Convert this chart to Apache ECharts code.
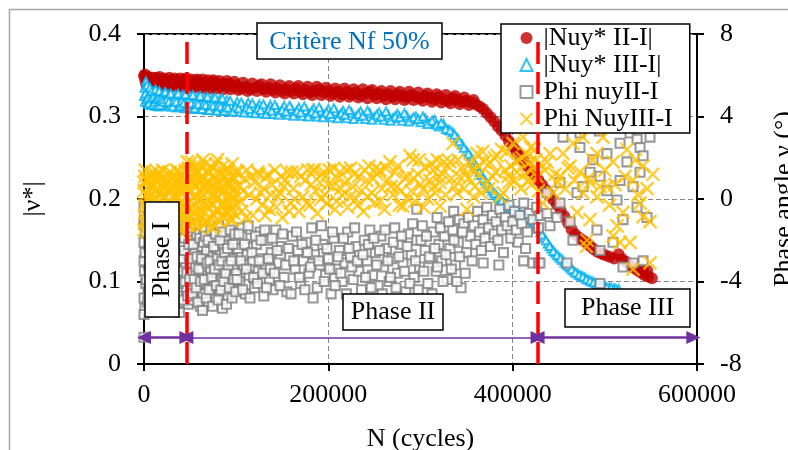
<!DOCTYPE html>
<html><head><meta charset="utf-8">
<script src="https://cdn.jsdelivr.net/npm/echarts@6/dist/echarts.min.js"></script>
<style>html,body{margin:0;padding:0;background:#fff}#c{width:788px;height:450px}</style>
</head><body><div id="c"></div>
<script>
const seriesNames = ['|Nuy* II-I|', '|Nuy* III-I|', 'Phi nuyII-I', 'Phi NuyIII-I'];
const xTicks = [0, 200000, 400000, 600000];
// |Nuy* II-I|  [N, |nu*|]
const nuyII = [[0,0.349],[1500,0.344],[3000,0.346],[4500,0.342],[6000,0.345],[8000,0.341],[10000,0.344],[12000,0.34],[14000,0.343],[16000,0.345],[18000,0.341],[20000,0.343],[23000,0.339],[26000,0.342],[29000,0.344],[32000,0.34],[35000,0.343],[38000,0.339],[41000,0.342],[44000,0.344],[47000,0.34],[50000,0.342],[53000,0.338],[56000,0.341],[59000,0.343],[62000,0.339],[65000,0.341],[68000,0.338],[71000,0.34],[74000,0.342],[77000,0.338],[80000,0.34],[84000,0.337],[88000,0.339],[92000,0.34],[96000,0.336],[100000,0.338],[105000,0.334],[110000,0.336],[115000,0.333],[120000,0.335],[125000,0.337],[130000,0.333],[135000,0.335],[140000,0.332],[145000,0.334],[150000,0.331],[155000,0.333],[160000,0.331],[165000,0.334],[170000,0.33],[175000,0.332],[180000,0.329],[185000,0.331],[190000,0.333],[195000,0.329],[200000,0.331],[205000,0.328],[210000,0.33],[215000,0.327],[220000,0.33],[225000,0.327],[230000,0.329],[235000,0.326],[240000,0.328],[245000,0.33],[250000,0.326],[255000,0.328],[260000,0.325],[265000,0.327],[270000,0.324],[275000,0.327],[280000,0.325],[285000,0.323],[290000,0.326],[295000,0.324],[300000,0.322],[305000,0.325],[310000,0.323],[315000,0.321],[320000,0.324],[325000,0.321],[330000,0.319],[335000,0.322],[340000,0.32],[345000,0.318],[350000,0.319],[355000,0.317],[360000,0.315],[364000,0.312],[368000,0.309],[372000,0.304],[376000,0.299],[380000,0.294],[384000,0.288],[388000,0.283],[392000,0.277],[396000,0.27],[400000,0.264],[404000,0.258],[408000,0.252],[412000,0.246],[416000,0.24],[420000,0.234],[424000,0.229],[428000,0.223],[432000,0.217],[436000,0.211],[440000,0.205],[444000,0.199],[448000,0.193],[452000,0.186],[456000,0.179],[460000,0.171],[464000,0.163],[468000,0.157],[472000,0.153],[476000,0.15],[480000,0.147],[484000,0.143],[488000,0.139],[492000,0.136],[496000,0.134],[500000,0.132],[505000,0.13],[510000,0.128],[515000,0.133],[519000,0.127],[523000,0.124],[527000,0.12],[531000,0.117],[535000,0.114],[539000,0.111],[541000,0.115],[543000,0.108],[546000,0.113],[547000,0.106],[551000,0.104]];
const nuyIIspread = [[1000,0.351],[2500,0.339],[5000,0.348],[7000,0.338],[9000,0.347],[11000,0.337],[13000,0.347],[15000,0.338],[17000,0.348],[19000,0.337],[21500,0.346],[24500,0.336],[27500,0.347],[30500,0.337],[33500,0.346],[36500,0.336],[39500,0.346],[42500,0.336],[45500,0.346],[48500,0.336],[51500,0.345],[54500,0.335],[57500,0.345],[60500,0.335],[63500,0.345],[66500,0.334],[69500,0.344],[72500,0.334],[75500,0.344],[78500,0.334],[82000,0.343],[86000,0.333],[90000,0.343],[94000,0.333],[98000,0.342],[102500,0.332],[107500,0.341],[112500,0.331],[117500,0.34],[122500,0.331],[127500,0.339],[132500,0.33],[137500,0.339],[142500,0.329],[147500,0.338],[152500,0.328],[157500,0.337],[162500,0.328],[167500,0.337],[172500,0.327],[177500,0.336],[182500,0.326],[187500,0.336],[192500,0.326],[197500,0.335],[202500,0.325],[207500,0.334],[212500,0.324],[217500,0.334],[222500,0.324],[227500,0.333],[232500,0.323],[237500,0.333],[242500,0.322],[247500,0.332],[252500,0.322],[257500,0.331],[262500,0.321],[267500,0.331],[272500,0.321],[277500,0.33],[282500,0.32],[287500,0.33],[292500,0.32],[297500,0.329],[302500,0.319],[307500,0.328],[312500,0.318],[317500,0.327],[322500,0.317],[327500,0.326],[332500,0.316],[337500,0.325],[342500,0.315],[347500,0.323],[352500,0.314],[357500,0.32]];
// |Nuy* III-I|  [N, |nu*|]
const nuyIII = [[0,0.325],[1000,0.318],[2000,0.343],[3000,0.33],[4000,0.315],[5000,0.327],[6000,0.321],[7000,0.332],[8000,0.314],[9000,0.326],[10000,0.319],[11000,0.33],[12000,0.313],[13000,0.324],[14000,0.318],[15000,0.329],[16000,0.312],[17000,0.323],[18000,0.317],[19000,0.328],[20000,0.313],[22000,0.325],[24000,0.316],[26000,0.327],[28000,0.312],[30000,0.322],[32000,0.315],[34000,0.326],[36000,0.311],[38000,0.321],[40000,0.315],[42000,0.326],[44000,0.31],[46000,0.32],[48000,0.314],[50000,0.325],[52000,0.309],[54000,0.319],[56000,0.313],[58000,0.324],[60000,0.309],[62000,0.318],[64000,0.312],[66000,0.323],[68000,0.308],[70000,0.317],[72000,0.311],[74000,0.322],[76000,0.308],[78000,0.316],[80000,0.31],[82000,0.321],[84000,0.307],[86000,0.315],[88000,0.31],[90000,0.32],[92000,0.306],[95000,0.314],[98000,0.309],[101000,0.318],[104000,0.306],[107000,0.313],[110000,0.308],[113000,0.317],[116000,0.305],[119000,0.312],[122000,0.307],[125000,0.315],[128000,0.304],[131000,0.311],[134000,0.306],[137000,0.314],[140000,0.303],[144000,0.31],[148000,0.305],[152000,0.313],[156000,0.302],[160000,0.309],[164000,0.304],[168000,0.311],[172000,0.301],[176000,0.308],[180000,0.303],[184000,0.31],[188000,0.3],[192000,0.307],[196000,0.302],[200000,0.309],[204000,0.299],[208000,0.306],[212000,0.301],[216000,0.307],[220000,0.298],[225000,0.305],[230000,0.3],[235000,0.306],[240000,0.297],[245000,0.304],[250000,0.299],[255000,0.305],[260000,0.296],[265000,0.302],[270000,0.298],[275000,0.303],[280000,0.295],[285000,0.301],[290000,0.296],[295000,0.3],[300000,0.293],[305000,0.298],[310000,0.292],[315000,0.296],[320000,0.288],[325000,0.291],[330000,0.284],[335000,0.281],[340000,0.274],[345000,0.266],[350000,0.258],[354000,0.252],[358000,0.244],[362000,0.237],[366000,0.229],[370000,0.222],[374000,0.216],[378000,0.21],[382000,0.205],[386000,0.2],[390000,0.196],[394000,0.192],[398000,0.189],[402000,0.186],[406000,0.184],[410000,0.181],[414000,0.179],[418000,0.176],[422000,0.172],[426000,0.167],[430000,0.16],[434000,0.153],[438000,0.146],[442000,0.14],[446000,0.135],[450000,0.13],[454000,0.126],[458000,0.121],[462000,0.117],[466000,0.113],[470000,0.11],[474000,0.107],[478000,0.105],[482000,0.102],[486000,0.1],[490000,0.098],[495000,0.096],[500000,0.094],[505000,0.093],[510000,0.092],[515000,0.091]];
const nuyIIIspread = [[500,0.335],[1500,0.328],[2500,0.321],[3500,0.338],[4500,0.323],[5500,0.316],[6500,0.335],[7500,0.322],[8500,0.331],[9500,0.315],[10500,0.324],[11500,0.318],[12500,0.333],[13500,0.321],[14500,0.313],[15500,0.322],[16500,0.331],[17500,0.314],[18500,0.323],[19500,0.32],[21000,0.318],[23000,0.33],[25000,0.321],[27000,0.318],[29000,0.328],[31000,0.312],[33000,0.32],[35000,0.318],[37000,0.328],[39000,0.313],[41000,0.319],[43000,0.316],[45000,0.327],[47000,0.311],[49000,0.319],[51000,0.316],[53000,0.326],[55000,0.31],[57000,0.317],[59000,0.315],[61000,0.325],[63000,0.309],[65000,0.316],[67000,0.314],[69000,0.324],[71000,0.308],[73000,0.315],[75000,0.313],[77000,0.323],[79000,0.307],[81000,0.314],[83000,0.312],[85000,0.322],[87000,0.307],[89000,0.313],[91000,0.311],[93500,0.319],[96500,0.306],[99500,0.312],[102500,0.31],[105500,0.317],[108500,0.305],[111500,0.311],[114500,0.309],[117500,0.316],[120500,0.304],[123500,0.31],[126500,0.308],[129500,0.315],[132500,0.303],[135500,0.309],[138500,0.307],[142000,0.314],[146000,0.302],[150000,0.308],[154000,0.306],[158000,0.313],[162000,0.301],[166000,0.307],[170000,0.305],[174000,0.312],[178000,0.3],[182000,0.306],[186000,0.304],[190000,0.311],[194000,0.299],[198000,0.305],[202000,0.303],[206000,0.31],[210000,0.298],[214000,0.304],[218000,0.302],[222500,0.308],[227500,0.297],[232500,0.303],[237500,0.301],[242500,0.307],[247500,0.296],[252500,0.302],[257500,0.3],[262500,0.306],[267500,0.295],[272500,0.3],[277500,0.299],[282500,0.304],[287500,0.294],[292500,0.299],[297500,0.297],[302500,0.3],[307500,0.291],[312500,0.295],[317500,0.29],[322500,0.292],[327500,0.285],[332000,0.283],[337000,0.278],[342000,0.27],[347000,0.262],[352000,0.255],[356000,0.248],[360000,0.24],[364000,0.233],[368000,0.225],[372000,0.219],[376000,0.213],[380000,0.207],[384000,0.202],[388000,0.198],[392000,0.194],[396000,0.19],[400000,0.187],[404000,0.185],[408000,0.182],[412000,0.18],[416000,0.177],[420000,0.174],[424000,0.17],[428000,0.164],[432000,0.157],[436000,0.15],[440000,0.143],[444000,0.137],[448000,0.132],[452000,0.128],[456000,0.123],[460000,0.119],[464000,0.115],[468000,0.111],[472000,0.108],[476000,0.106],[480000,0.103],[484000,0.101],[488000,0.099],[492000,0.097],[497000,0.095],[502000,0.093],[507000,0.092],[512000,0.091]];
// Phi nuyII-I  [N, degrees]
const phiII = [[0,-6.7],[0,-0.4],[0,-1.2],[0,-2.1],[0,-4.8],[500,-3.5],[1000,-5.3],[1500,-1.6],[2000,-4.1],[3000,-2.8],[4000,-5.0],[5000,-3.2],[6000,-1.9],[7000,-4.4],[8000,-2.5],[9000,-5.5],[10000,-3.7],[12000,-1.4],[14000,-4.6],[16000,-2.9],[18000,-3.9],[20000,-5.2],[22000,-2.2],[24000,-3.4],[26000,-4.9],[28000,-1.8],[30000,-3.0],[32000,-4.3],[34000,-2.6],[36000,-5.3],[38000,-3.6],[39000,-1.5],[40000,-4.7],[41000,-2.3],[42000,-3.9],[43000,-5.0],[44000,-1.9],[45000,-3.3],[46000,-4.4],[47000,-2.7],[48000,-5.1],[49000,-1.6],[50000,-3.1],[51000,-4.2],[52000,-2.0],[53000,-3.6],[54000,-4.9],[55000,-2.6],[56000,-3.3],[57000,-1.7],[58000,-4.4],[59000,-2.9],[60000,-3.8],[61000,-5.2],[62000,-2.3],[63000,-3.5],[64000,-4.6],[65000,-1.5],[66000,-3.0],[67000,-4.1],[68000,-2.5],[69000,-3.7],[70000,-5.0],[71000,-2.1],[72000,-3.4],[73000,-4.3],[74000,-1.9],[75000,-2.8],[76000,-4.0],[77000,-3.2],[78000,-4.8],[79000,-2.4],[80000,-3.6],[81000,-1.3],[82000,-4.5],[83000,-2.7],[84000,-3.9],[85000,-5.3],[86000,-2.2],[87000,-3.1],[88000,-4.2],[89000,-1.8],[90000,-3.5],[91000,-4.7],[92000,-2.6],[93000,-3.8],[94000,-1.6],[95000,-4.1],[96000,-2.9],[97000,-3.3],[98000,-4.4],[99000,-2.0],[100000,-3.6],[102000,-2.4],[104000,-4.0],[106000,-1.4],[108000,-3.2],[110000,-4.6],[112000,-2.7],[114000,-3.7],[116000,-1.9],[118000,-3.0],[120000,-4.3],[122000,-2.2],[124000,-3.5],[126000,-1.6],[128000,-2.9],[130000,-4.7],[132000,-3.3],[134000,-2.0],[136000,-3.9],[138000,-2.6],[140000,-4.4],[143000,-1.5],[146000,-3.1],[149000,-2.3],[152000,-3.8],[155000,-4.5],[158000,-2.8],[161000,-1.8],[164000,-3.4],[167000,-2.5],[170000,-4.1],[173000,-3.0],[176000,-2.1],[179000,-3.6],[182000,-1.4],[185000,-2.7],[188000,-4.3],[191000,-3.2],[194000,-2.2],[197000,-3.7],[200000,-2.9],[203000,-4.6],[206000,-1.9],[209000,-3.4],[212000,-2.5],[215000,-4.0],[218000,-3.1],[221000,-1.6],[224000,-2.8],[227000,-3.9],[230000,-2.3],[233000,-3.5],[236000,-4.4],[239000,-2.0],[242000,-3.0],[245000,-1.5],[248000,-3.7],[251000,-2.6],[254000,-4.2],[257000,-1.8],[260000,-3.3],[263000,-2.4],[266000,-4.0],[269000,-2.9],[272000,-1.4],[275000,-3.6],[278000,-2.2],[281000,-3.1],[284000,-4.5],[287000,-1.7],[290000,-2.7],[293000,-3.8],[296000,-0.5],[296000,-2.0],[299000,-3.3],[302000,-1.3],[305000,-2.5],[308000,-4.1],[311000,-2.9],[314000,-1.6],[317000,-3.5],[318000,-0.9],[320000,-2.2],[323000,-3.0],[326000,-1.8],[329000,-3.9],[332000,-2.4],[335000,-1.5],[336000,-0.6],[338000,-3.2],[341000,-2.1],[342000,-1.0],[344000,-4.3],[347000,-1.2],[350000,-2.6],[352000,-0.9],[354000,-1.8],[356000,-3.0],[358000,-1.3],[360000,-2.2],[362000,-0.6],[364000,-1.6],[366000,-2.5],[368000,-3.1],[368000,-1.0],[370000,-1.9],[372000,-0.4],[374000,-1.4],[376000,-2.3],[378000,-0.8],[380000,-1.7],[382000,-1.1],[384000,-2.0],[385000,-3.2],[386000,-0.5],[388000,-1.5],[390000,-2.6],[392000,-0.9],[394000,-1.3],[396000,-0.3],[398000,-1.9],[400000,-1.1],[402000,-0.6],[404000,-1.5],[406000,-2.1],[408000,-0.8],[410000,-1.2],[412000,-3.0],[412000,-0.2],[414000,-2.4],[416000,-1.6],[418000,-0.7],[422000,-3.1],[422000,-1.0],[426000,-0.4],[428000,-3.1],[428000,-1.4],[430000,-0.8],[429600,-3.1],[437200,-0.7],[437200,0.3],[440500,-1.3],[448100,-0.9],[451300,-0.2],[451300,0.8],[454600,3.0],[459000,-3.1],[462300,-1.1],[465400,-2.0],[469800,0.3],[473000,3.2],[473000,2.5],[476000,3.5],[476300,0.6],[483900,1.3],[487100,1.9],[491500,-1.5],[494000,3.3],[494800,-2.5],[494800,1.1],[494800,-4.1],[502300,2.2],[502300,0.4],[508900,-2.1],[513200,-0.05],[516500,2.7],[516500,0.9],[519700,-1.0],[519700,-3.3],[524000,3.5],[524000,1.8],[527300,3.2],[530600,-3.1],[530600,0.6],[534900,-0.4],[535000,2.9],[538200,2.5],[538200,1.3],[541500,2.1],[541500,-3.0],[545800,-0.9],[549000,3.0]];
const phiIIextra = [[0,-3.0],[0,-5.6],[500,-1.0],[1000,-2.6],[2500,-3.9],[3500,-1.2],[4500,-4.5],[5500,-2.2],[6500,-5.1],[7500,-3.0],[8500,-1.5],[9500,-4.2],[11000,-2.5],[13000,-5.0],[15000,-3.3],[17000,-1.7],[19000,-4.4],[21000,-2.8],[23000,-5.4],[25000,-1.9],[27000,-3.7],[29000,-4.8],[31000,-2.2],[33000,-3.3],[35000,-1.4],[37000,-4.1],[38500,-5.5],[39500,-2.9],[40500,-3.5],[41500,-1.1],[42500,-4.9],[43500,-2.5],[44500,-4.0],[45500,-1.3],[46500,-3.6],[47500,-4.7],[48500,-2.2],[49500,-3.9],[50500,-1.4],[51500,-2.9],[52500,-4.6],[53500,-2.2],[54500,-3.9],[55500,-1.2],[56500,-4.3],[57500,-2.8],[58500,-5.0],[59500,-3.4],[60500,-1.9],[61500,-4.0],[62500,-2.9],[63500,-5.4],[64500,-2.1],[65500,-3.9],[66500,-1.8],[67500,-4.8],[68500,-3.1],[69500,-2.0],[70500,-4.4],[71500,-3.0],[72500,-1.5],[73500,-3.8],[74500,-5.2],[75500,-2.3],[76500,-3.4],[77500,-1.7],[78500,-4.2],[79500,-2.9],[80500,-4.9],[81500,-3.2],[82500,-2.0],[83500,-4.4],[84500,-3.0],[85500,-1.6],[86500,-4.0],[87500,-2.6],[88500,-3.6],[89500,-5.1],[90500,-2.4],[91500,-3.2],[92500,-4.3],[93500,-1.5],[94500,-3.0],[95500,-4.8],[96500,-2.2],[97500,-3.9],[98500,-1.7],[99500,-4.5],[101000,-3.9],[103000,-1.7],[105000,-3.0],[107000,-4.4],[109000,-2.2],[111000,-3.4],[113000,-1.3],[115000,-4.8],[117000,-2.6],[119000,-3.8],[121000,-1.8],[123000,-4.1],[125000,-3.0],[127000,-2.0],[129000,-3.6],[131000,-1.5],[133000,-4.3],[135000,-2.9],[137000,-3.4],[139000,-1.9],[141500,-3.6],[144500,-2.5],[147500,-4.2],[150500,-1.7],[153500,-3.2],[156500,-2.4],[159500,-4.6],[162500,-3.0],[165500,-1.6],[168500,-3.8],[171500,-2.2],[174500,-4.4],[177500,-2.6],[180500,-3.3],[183500,-4.8],[186500,-2.0],[189500,-3.0],[192500,-1.3],[195500,-4.0],[198500,-2.4],[201500,-3.4],[204500,-1.6],[207500,-4.2],[210500,-2.8],[213500,-3.6],[216500,-1.9],[219500,-4.6],[222500,-2.4],[225500,-3.3],[228500,-1.4],[231500,-3.0],[234500,-4.9],[237500,-2.7],[240500,-3.8],[243500,-2.2],[246500,-4.3],[249500,-1.9],[252500,-3.2],[255500,-2.5],[258500,-4.6],[261500,-1.5],[264500,-3.0],[267500,-3.8],[270500,-2.1],[273500,-4.3],[276500,-2.8],[279500,-1.8],[282500,-3.5],[285500,-2.3],[288500,-4.1],[291500,-1.2],[294500,-3.0],[297500,-4.4],[300500,-2.0],[303500,-3.5],[306500,-1.8],[309500,-2.8],[312500,-4.6],[315500,-2.4],[318500,-3.3],[321500,-1.4],[324500,-4.0],[327500,-2.7],[330500,-1.1],[333500,-3.4],[336500,-2.0],[339500,-4.0],[342500,-2.8],[345500,-1.6],[348500,-3.6]];
// Phi NuyIII-I  [N, degrees]
const phiIII = [[0,-1.5],[0,0.8],[500,-0.3],[1000,1.1],[1500,-1.0],[2000,0.2],[3000,-0.6],[4000,0.9],[5000,-1.3],[6000,0.4],[7000,-0.2],[8000,1.2],[9000,-0.8],[10000,0.6],[11000,-1.4],[12000,0.0],[13000,0.9],[14000,-0.5],[15000,1.3],[16000,-1.1],[17000,0.3],[18000,-0.3],[19000,1.0],[20000,-0.9],[21000,0.5],[22000,-1.5],[23000,0.1],[24000,0.8],[25000,-0.6],[26000,1.2],[27000,-1.2],[28000,0.4],[29000,-0.1],[30000,1.0],[31000,-0.7],[32000,0.6],[33000,-1.3],[34000,0.2],[35000,0.9],[36000,-0.4],[37000,1.3],[38000,-1.0],[39000,0.5],[40000,-0.2],[41000,1.1],[42000,-0.8],[43000,0.3],[44000,-1.6],[45000,0.7],[46000,-0.3],[47000,1.8],[48000,-0.9],[49000,0.4],[50000,1.2],[51000,-0.5],[52000,0.9],[53000,-1.2],[54000,0.1],[55000,1.6],[56000,-0.7],[57000,0.6],[58000,-0.1],[59000,1.3],[60000,-1.0],[61000,0.3],[62000,0.9],[63000,-0.6],[64000,1.9],[65000,-0.2],[66000,0.7],[67000,-1.1],[68000,0.4],[69000,1.4],[70000,-0.4],[71000,0.8],[72000,-0.9],[73000,0.2],[74000,1.1],[75000,-0.3],[76000,0.6],[77000,-1.3],[78000,1.7],[79000,0.0],[80000,0.9],[81000,-0.6],[82000,0.4],[83000,1.2],[84000,-0.8],[85000,0.3],[86000,-0.2],[87000,1.0],[88000,-0.5],[89000,0.7],[90000,1.5],[91000,-0.7],[92000,0.2],[93000,0.8],[94000,-0.4],[95000,1.1],[96000,-1.0],[97000,0.5],[98000,0.0],[99000,1.3],[100000,-0.3],[103000,0.6],[106000,-0.6],[109000,1.0],[111500,1.4],[114000,0.2],[118000,-0.8],[120000,0.8],[122400,0.0],[125000,1.2],[128000,-0.3],[130000,0.5],[133200,1.1],[136000,-0.5],[139000,0.7],[142000,1.4],[145000,0.1],[147300,0.3],[150000,-0.9],[153000,0.9],[156000,1.3],[159000,-0.2],[162000,0.5],[165800,1.3],[168000,-0.6],[172300,0.1],[175000,0.9],[178000,1.4],[180000,-0.3],[183200,1.4],[186000,0.4],[188000,-0.7],[190800,0.8],[193000,1.2],[196000,0.2],[198300,-0.2],[201000,1.4],[204800,0.6],[207000,-0.5],[210000,1.0],[212500,1.3],[215000,0.2],[218000,0.8],[221000,-0.4],[224000,1.5],[226600,0.6],[230000,0.0],[233000,1.1],[236000,0.4],[238000,-0.6],[241800,0.9],[244000,1.6],[247000,0.3],[250000,-0.2],[253000,1.2],[255900,1.4],[258000,0.5],[261000,-0.5],[264000,0.9],[266800,1.8],[270000,0.2],[272000,1.3],[274400,0.6],[277000,-0.3],[280900,-0.35],[283000,1.0],[285200,1.1],[288500,2.1],[290000,0.4],[291800,1.9],[294000,-0.1],[297000,1.2],[300000,0.7],[302600,0.45],[305000,1.5],[308000,0.0],[310000,0.9],[313500,1.4],[316000,0.3],[318000,1.9],[321100,-0.35],[321100,0.8],[324000,1.2],[327000,0.2],[329000,1.6],[331900,1.8],[335200,2.7],[337000,0.6],[339500,0.3],[342000,1.1],[345000,1.5],[347000,0.5],[350400,-0.5],[352000,1.0],[354000,1.7],[356900,1.4],[359000,0.6],[361300,2.2],[364000,1.2],[366000,0.3],[369000,1.8],[372100,0.8],[375400,1.75],[378000,1.1],[380000,2.0],[383000,2.1],[386200,0.1],[389500,0.3],[392000,1.4],[394000,2.3],[396000,0.8],[398000,1.6],[400300,2.7],[402000,0.9],[404700,1.3],[407000,1.9],[409000,0.5],[411200,3.0],[413000,1.2],[415000,2.2],[418800,1.8],[420000,0.7],[422000,1.5],[424000,2.4],[426300,1.1],[428000,0.4],[430000,1.7],[432900,-0.2],[435000,1.4],[437200,1.8],[440500,2.2],[443700,0.3],[446000,1.2],[448000,0.8],[451300,1.1],[454600,2.2],[457000,0.5],[460000,1.5],[462300,1.6],[465400,2.7],[467000,0.9],[469800,-0.65],[473000,1.3],[476300,3.0],[476300,0.3],[480000,-2.3],[480700,-2.0],[482000,1.0],[483900,0.8],[483900,-1.0],[487000,1.9],[491500,2.2],[491500,0.1],[494800,0.6],[498000,3.0],[500000,1.4],[502300,0.6],[505000,-0.3],[508900,1.8],[508900,-1.8],[511000,0.7],[513200,-1.3],[516500,-2.1],[519700,-0.65],[522000,1.1],[524000,2.4],[527300,-2.1],[530600,0.9],[530600,-3.4],[533000,1.9],[536000,0.2],[538200,-0.2],[541500,1.6],[541500,-0.85],[545800,0.5],[549000,-1.1],[549000,-3.1],[552000,1.2]];
const phiIIIextra = [[250,0.4],[750,-1.2],[1250,1.4],[1750,-0.4],[2500,0.9],[3500,-1.6],[4500,0.1],[5500,1.0],[6500,-0.9],[7500,0.6],[8500,-0.1],[9500,1.3],[10500,-1.2],[11500,0.4],[12500,-0.7],[13500,1.1],[14500,-0.2],[15500,0.5],[16500,-1.5],[17500,1.2],[18500,-0.6],[19500,0.2],[20500,1.4],[21500,-1.1],[22500,0.7],[23500,-0.4],[24500,1.0],[25500,-1.4],[26500,0.3],[27500,-0.1],[28500,1.3],[29500,-0.9],[30500,0.5],[31500,-1.6],[32500,1.1],[33500,0.0],[34500,-0.7],[35500,1.4],[36500,-1.2],[37500,0.6],[38500,-0.2],[39500,1.2],[40500,-1.5],[41500,0.3],[42500,0.9],[43500,-0.6],[44500,1.4],[45500,-1.1],[46500,0.6],[47500,-0.5],[48500,1.5],[49500,-1.3],[50500,0.4],[51500,1.8],[52500,-0.3],[53500,0.8],[54500,-1.0],[55500,0.2],[56500,1.3],[57500,-1.3],[58500,0.9],[59500,-0.4],[60500,1.6],[61500,-0.8],[62500,0.0],[63500,1.1],[64500,-1.2],[65500,0.5],[66500,1.7],[67500,-0.3],[68500,0.8],[69500,-1.1],[70500,1.2],[71500,-0.1],[72500,0.6],[73500,-1.4],[74500,1.5],[75500,0.2],[76500,-0.8],[77500,1.0],[78500,-0.5],[79500,1.9],[80500,0.1],[81500,-1.1],[82500,1.3],[83500,0.5],[84500,-0.3],[85500,1.6],[86500,-0.9],[87500,0.4],[88500,1.1],[89500,-0.6],[90500,0.8],[91500,1.4],[92500,-0.2],[93500,-1.0],[94500,0.6],[95500,1.7],[96500,0.1],[97500,-0.7],[98500,1.0],[99500,0.3],[101500,1.3],[104500,-0.1],[107500,0.4],[110500,-0.9],[116000,1.1],[123500,1.3],[126500,0.3],[131500,-0.8],[134500,1.2],[137500,0.2],[143500,-0.4],[148500,1.1],[151500,0.6],[157500,-0.6],[160500,1.3],[163500,0.0],[170000,1.1],[176500,-0.2],[181500,0.7],[185000,1.4],[191800,0.0],[195000,1.3],[199500,0.7],[206000,1.5],[209000,-0.1],[213500,0.5],[219500,1.4],[223000,0.1],[228000,1.2],[232000,-0.3],[239500,1.4],[242500,0.1],[248500,1.0],[251500,1.5],[256500,-0.1],[262500,1.5],[268000,0.6],[275500,1.6],[279000,0.4],[286500,0.0],[292500,1.0],[298500,1.9],[303500,-0.4],[311500,1.7],[314500,0.6],[319500,1.1],[325500,1.8],[333500,1.0],[340500,1.9],[348500,1.2],[357500,0.1],[362500,1.6],[367500,2.3],[374000,0.5],[381500,1.3],[388000,2.4],[395000,1.1],[403500,1.8],[410000,2.0],[416500,0.9],[419500,2.5],[425000,1.9]];
// annotations (data units)
const phaseLimits = [46000, 427000];
const phaseArrows = [[0, 46000], [46000, 427000], [427000, 596000]];
const arrowLevel = 0.032;

const F = '"Liberation Serif","Times New Roman",serif';
const chart = echarts.init(document.getElementById('c'), null, {renderer: 'canvas'});

const arrowData = phaseArrows.map((p, i) => [
  {coord: [p[0], arrowLevel], lineStyle: {width: i === 1 ? 1.5 : 2.5}},
  {coord: [p[1], arrowLevel]}
]);

const option = {
  backgroundColor: '#fff',
  animation: false,
  textStyle: {fontFamily: F},
  grid: {left: 144, right: 91, top: 34, bottom: 86, show: true, borderColor: '#000', borderWidth: 2, backgroundColor: '#fff', outerBoundsMode: 'none', containLabel: false},
  legend: {
    data: seriesNames, orient: 'vertical', left: 501, top: 24,
    backgroundColor: '#fff', borderColor: '#000', borderWidth: 1.5, borderRadius: 0,
    padding: [1, 17, 1, 17], itemGap: 1, itemWidth: 12, itemHeight: 12, symbolKeepAspect: true,
    textStyle: {fontFamily: F, fontSize: 26, color: '#000', lineHeight: 26, padding: [0, 0, 0, 6]}
  },
  xAxis: {
    type: 'value', min: xTicks[0], max: xTicks[xTicks.length - 1], interval: xTicks[1] - xTicks[0],
    name: 'N (cycles)', nameLocation: 'middle', nameGap: 62,
    nameTextStyle: {fontFamily: F, fontSize: 26, color: '#000'},
    axisLine: {onZero: false, lineStyle: {color: '#000', width: 2}},
    axisTick: {show: true, inside: false, length: 7, lineStyle: {color: '#000', width: 2}},
    axisLabel: {fontFamily: F, fontSize: 26, color: '#000', margin: 18, formatter: v => String(v)},
    splitLine: {show: true, lineStyle: {color: '#888', type: [5, 3], width: 1}}
  },
  yAxis: [{
    type: 'value', min: 0, max: 0.4, interval: 0.1, position: 'left',
    name: '|ν*|', nameLocation: 'middle', nameGap: 98,
    nameTextStyle: {fontFamily: F, fontSize: 26, color: '#000'},
    axisLine: {show: true, onZero: false, lineStyle: {color: '#000', width: 2}},
    axisTick: {show: true, length: 7, lineStyle: {color: '#000', width: 2}},
    axisLabel: {fontFamily: F, fontSize: 26, color: '#000', margin: 23, formatter: v => v === 0 ? '0' : v.toFixed(1)},
    splitLine: {show: true, lineStyle: {color: '#888', type: [5, 3], width: 1}}
  }, {
    type: 'value', min: -8, max: 8, interval: 4, position: 'right',
    name: 'Phase angle ν (°)', nameLocation: 'middle', nameGap: 74,
    nameTextStyle: {fontFamily: F, fontSize: 26, color: '#000'},
    axisLine: {show: true, onZero: false, lineStyle: {color: '#000', width: 2}},
    axisTick: {show: true, length: 7, lineStyle: {color: '#000', width: 2}},
    axisLabel: {fontFamily: F, fontSize: 26, color: '#000', margin: 23, formatter: v => String(v)},
    splitLine: {show: false}
  }],
  series: [
    {name: seriesNames[0], type: 'scatter', yAxisIndex: 0, data: nuyII.concat(nuyIIspread), symbol: 'circle', symbolSize: 12,
     itemStyle: {color: '#C00000'}},
    {name: seriesNames[1], type: 'scatter', yAxisIndex: 0, data: nuyIII.concat(nuyIIIspread), symbol: 'triangle', symbolSize: 8,
     itemStyle: {color: '#fff', borderColor: '#00B0F0', borderWidth: 2}},
    {name: seriesNames[2], type: 'scatter', yAxisIndex: 1, data: phiII.concat(phiIIextra), symbol: 'rect', symbolSize: 9,
     itemStyle: {color: '#fff', borderColor: '#7f7f7f', borderWidth: 2.1}},
    {name: seriesNames[3], type: 'scatter', yAxisIndex: 1, data: phiIII.concat(phiIIIextra), symbol: 'path://M0,0L10,10M10,0L0,10', symbolSize: 13,
     itemStyle: {color: 'none', borderColor: '#FFC000', borderWidth: 2.4}},
    {name: 'limits', type: 'line', yAxisIndex: 0, data: [],
     markLine: {silent: true, symbol: 'none', label: {show: false},
       lineStyle: {color: '#FF0000', width: 3.5, type: [22, 8]},
       data: phaseLimits.map(v => ({xAxis: v}))}},
    {name: 'arrows', type: 'line', yAxisIndex: 0, data: [],
     markLine: {silent: true, symbol: ['triangle', 'triangle'], symbolSize: [13, 14], label: {show: false},
       lineStyle: {color: '#7030A0', type: 'solid', width: 2},
       itemStyle: {color: '#7030A0'},
       data: arrowData}}
  ],
  graphic: [
    {type: 'rect', z: 0, silent: true, shape: {x: 9.5, y: 9.5, width: 900, height: 900}, style: {fill: 'none', stroke: '#a6a6a6', lineWidth: 1.5}},
    {type: 'rect', z: 100, shape: {x: 257, y: 23, width: 185, height: 36}, style: {fill: '#fff', stroke: '#000', lineWidth: 1.5}},
    {type: 'text', z: 101, x: 349.5, y: 42, style: {text: 'Critère Nf 50%', font: '26px ' + F, fill: '#0070C0', align: 'center', verticalAlign: 'middle'}},
    {type: 'rect', z: 100, shape: {x: 145, y: 202, width: 34, height: 115}, style: {fill: '#fff', stroke: '#000', lineWidth: 1.5}},
    {type: 'text', z: 101, x: 162, y: 259.5, rotation: Math.PI / 2, style: {text: 'Phase I', font: '26px ' + F, fill: '#000', align: 'center', verticalAlign: 'middle'}},
    {type: 'rect', z: 100, shape: {x: 343, y: 294, width: 100, height: 36}, style: {fill: '#fff', stroke: '#000', lineWidth: 1.5}},
    {type: 'text', z: 101, x: 393, y: 312.5, style: {text: 'Phase II', font: '26px ' + F, fill: '#000', align: 'center', verticalAlign: 'middle'}},
    {type: 'rect', z: 100, shape: {x: 565, y: 289, width: 125, height: 38}, style: {fill: '#fff', stroke: '#000', lineWidth: 1.5}},
    {type: 'text', z: 101, x: 627.5, y: 308.5, style: {text: 'Phase III', font: '26px ' + F, fill: '#000', align: 'center', verticalAlign: 'middle'}}
  ]
};
chart.setOption(option);
</script>
</body></html>
